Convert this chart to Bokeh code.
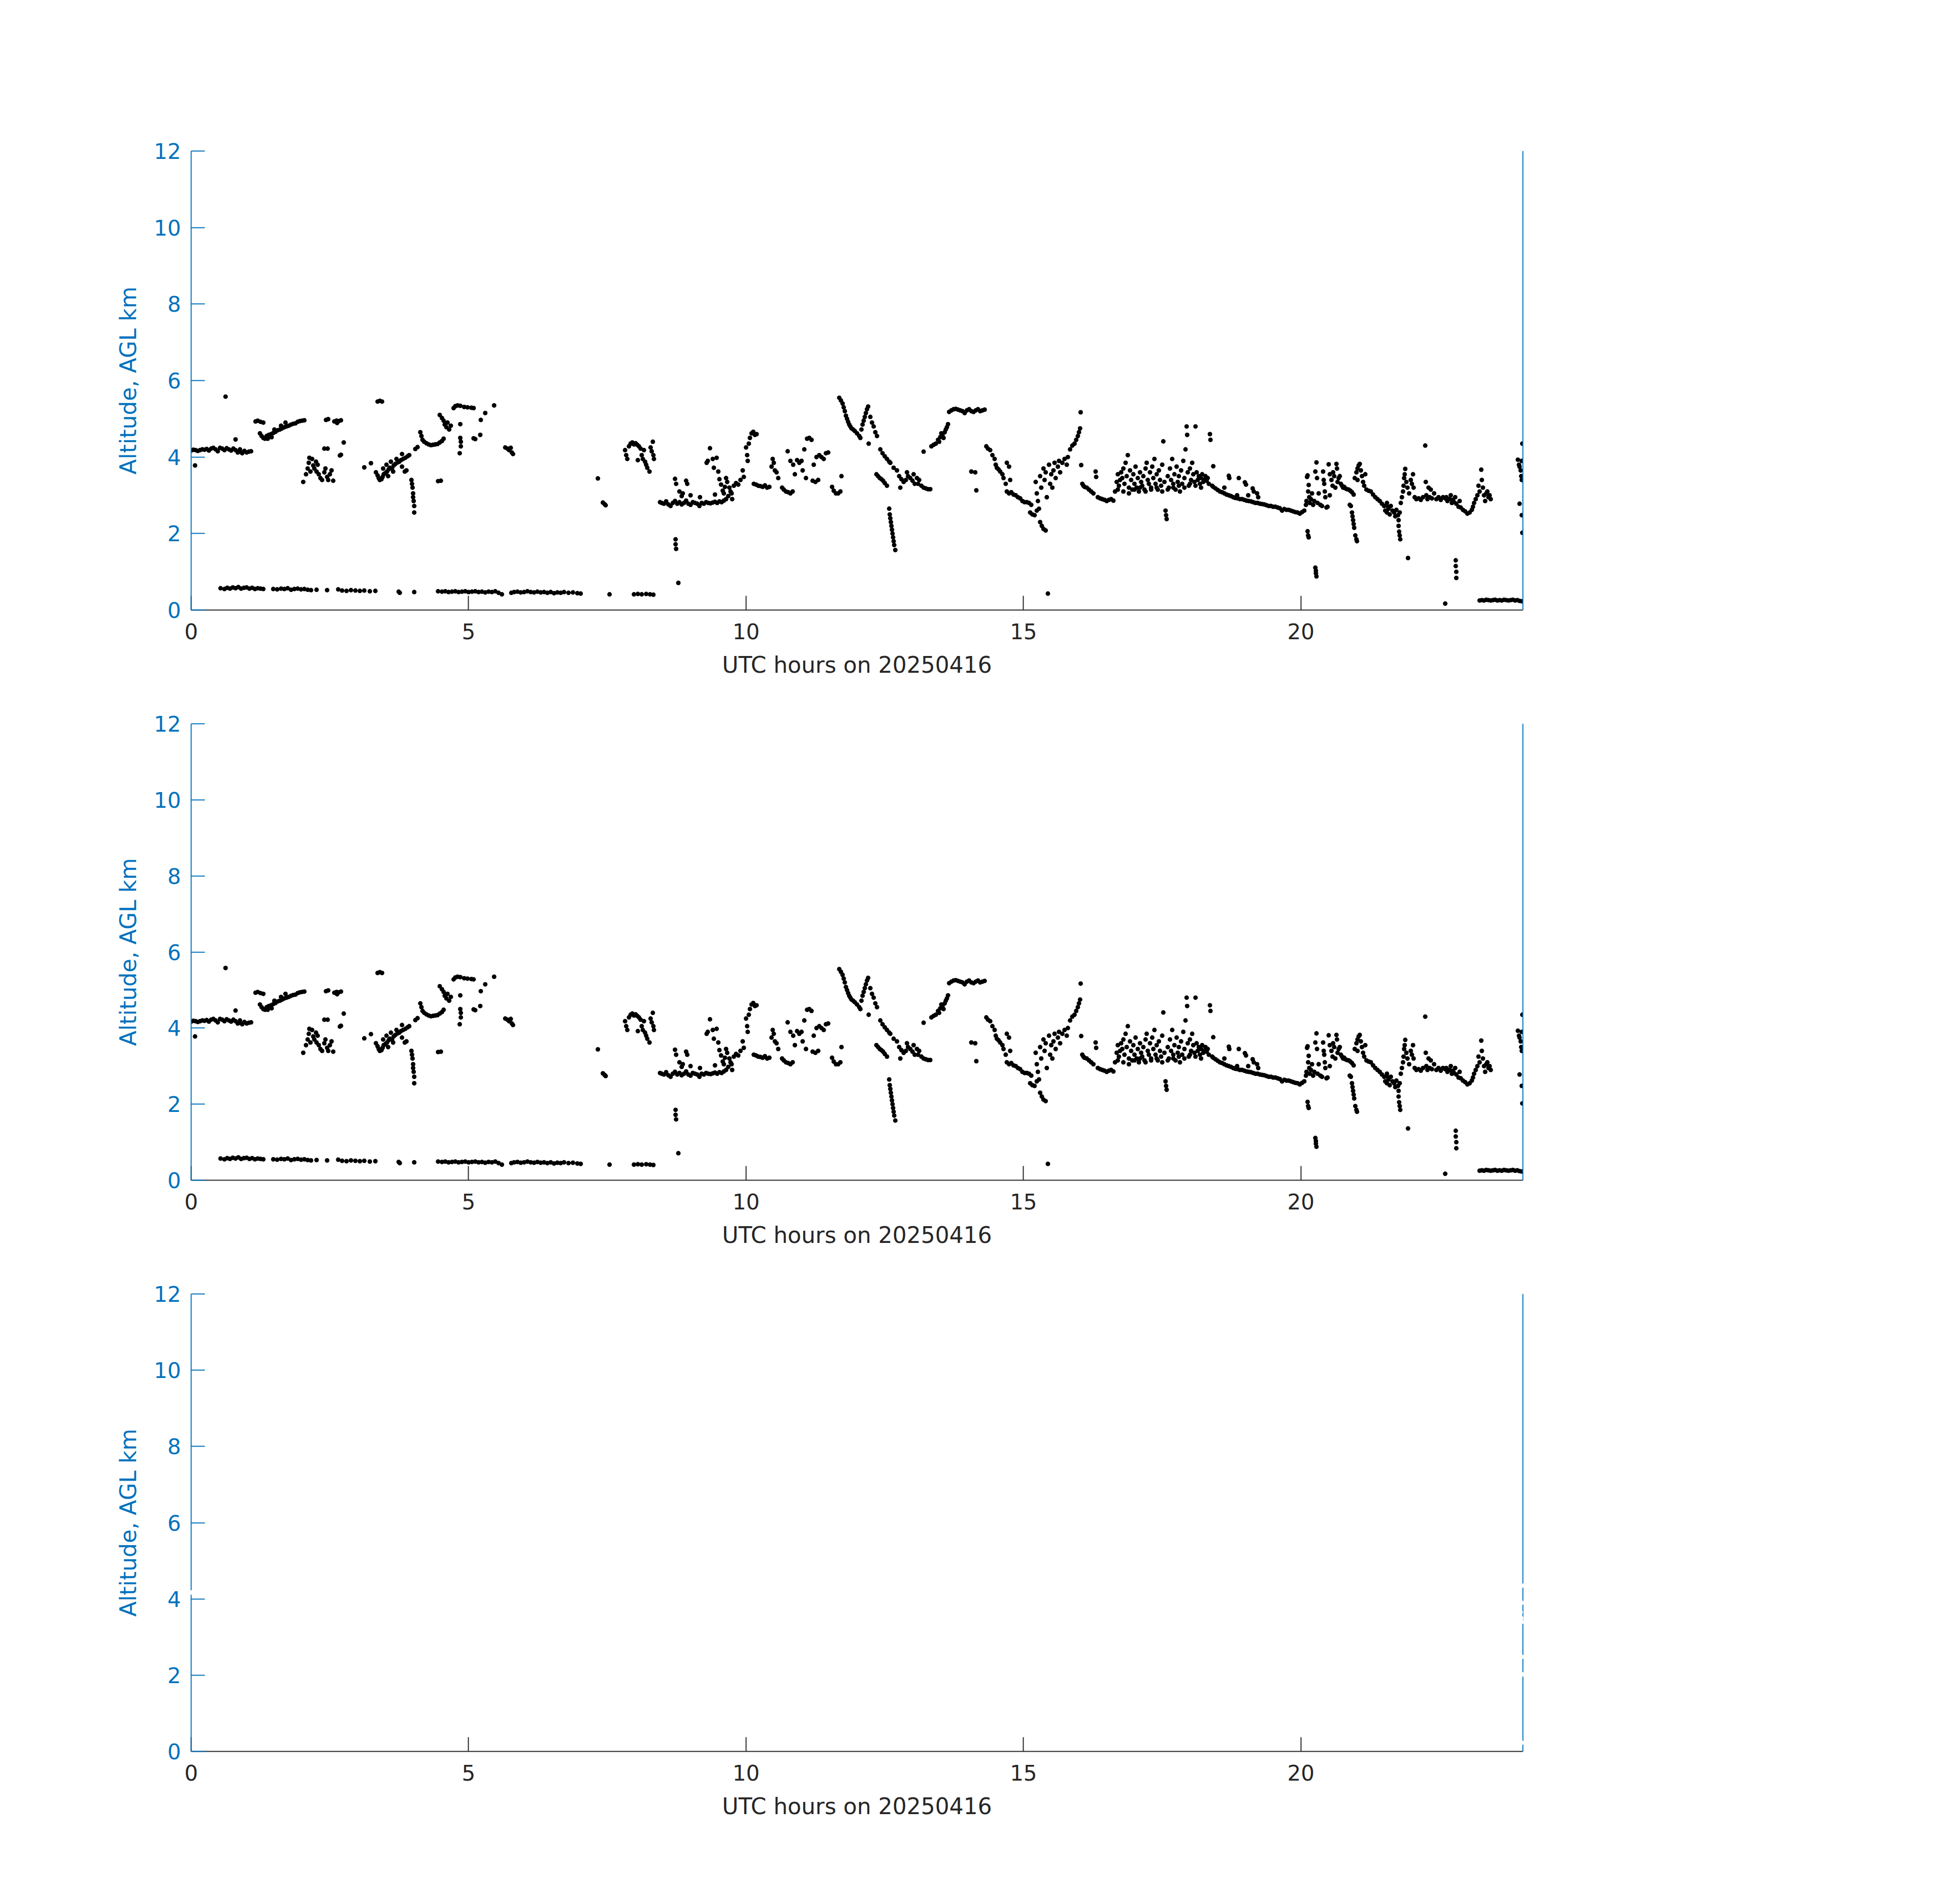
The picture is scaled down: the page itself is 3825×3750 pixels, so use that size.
from bokeh.plotting import figure
from bokeh.layouts import column
from bokeh.models import Range1d, FixedTicker, LinearAxis, ColumnDataSource
from bokeh.embed import file_html
from bokeh.resources import INLINE

# ---- data: (UTC hour, altitude km AGL) ----
upper_00_06 = [
    (0.00,4.17),(0.04,4.19),(0.08,4.18),(0.12,4.16),(0.16,4.18),(0.20,4.20),(0.24,4.19),(0.28,4.21),
    (0.32,4.17),(0.36,4.22),(0.40,4.24),(0.44,4.20),(0.48,4.15),(0.52,4.24),(0.56,4.22),(0.60,4.18),
    (0.64,4.23),(0.68,4.20),(0.72,4.17),(0.76,4.22),(0.80,4.18),(0.84,4.12),(0.88,4.14),(0.92,4.10),
    (0.96,4.16),(1.00,4.12),(1.04,4.14),(1.08,4.15),(0.07,3.78),(0.62,5.58),(0.80,4.46),(0.88,4.20),
    (1.16,4.93),(1.20,4.95),(1.25,4.92),(1.30,4.90),
    (1.24,4.62),(1.27,4.55),(1.30,4.50),(1.33,4.48),(1.36,4.55),(1.40,4.58),(1.44,4.60),(1.48,4.63),
    (1.52,4.66),(1.56,4.70),(1.60,4.72),(1.64,4.75),(1.68,4.78),(1.72,4.80),(1.76,4.82),(1.80,4.85),
    (1.84,4.87),(1.88,4.88),(1.92,4.92),(1.96,4.94),(2.00,4.95),(2.04,4.96),(1.50,4.72),(1.62,4.82),
    (1.70,4.90),(1.45,4.52),(1.38,4.48),
    (2.02,3.35),(2.07,3.55),(2.10,3.70),(2.12,3.85),(2.15,3.62),(2.18,3.95),(2.20,3.78),(2.22,3.70),
    (2.25,3.88),(2.28,3.80),(2.30,3.55),(2.33,3.45),(2.36,3.40),(2.40,3.60),(2.42,3.70),(2.45,3.48),
    (2.50,3.55),(2.53,3.65),(2.56,3.38),(2.13,3.98),(2.26,3.62),(2.47,3.40),
    (2.40,4.22),(2.46,4.22),(2.43,4.97),(2.47,4.99),(2.58,4.93),(2.62,4.95),(2.66,4.94),(2.70,4.96),
    (2.63,4.89),(2.75,4.38),(2.68,4.04),(2.70,4.06),
    (3.12,3.73),(3.24,3.84),(3.36,5.45),(3.40,5.47),(3.44,5.45),
    (3.33,3.60),(3.36,3.52),(3.38,3.45),(3.40,3.40),(3.43,3.42),(3.45,3.48),(3.47,3.55),(3.50,3.58),
    (3.53,3.62),(3.56,3.68),(3.58,3.72),(3.62,3.70),(3.65,3.78),(3.68,3.82),(3.72,3.86),(3.75,3.88),
    (3.78,3.92),(3.82,3.95),(3.86,3.98),(3.90,4.02),(3.93,4.05),(3.46,3.70),(3.52,3.80),(3.60,3.88),
    (3.64,3.62),(3.70,3.95),(3.80,4.08),(3.85,3.62),(3.88,3.65),(3.55,3.50),(3.80,3.75),
    (3.97,3.40),(3.98,3.30),(3.99,3.20),(4.00,3.05),(4.00,2.95),(4.01,2.85),(4.02,2.72),(4.02,2.55),
    (4.04,4.21),(4.08,4.26),(4.13,4.65),(4.15,4.55),(4.17,4.45),(4.20,4.40),(4.24,4.36),(4.28,4.33),
    (4.32,4.31),(4.36,4.32),(4.40,4.33),(4.44,4.34),(4.48,4.38),(4.52,4.42),(4.55,4.48),
    (4.45,3.37),(4.50,3.38),
    (4.48,5.10),(4.52,5.02),(4.55,4.95),(4.57,4.85),(4.60,4.78),(4.62,4.90),(4.65,4.72),(4.68,4.82),
    (4.73,5.28),(4.76,5.33),(4.80,5.35),(4.85,5.34),(4.92,5.31),(4.98,5.30),(5.05,5.29),(5.09,5.28),
    (4.85,4.86),(4.85,4.50),(4.86,4.40),(4.86,4.28),(4.84,4.10),
    (5.09,4.49),(5.12,4.47),(5.21,4.58),(5.22,4.97),(5.30,5.15),(5.46,5.35),
    (5.66,4.25),(5.70,4.22),(5.73,4.18),(5.76,4.24),(5.78,4.12),(5.80,4.08),
]

upper_07_10 = [
    (7.33,3.44),(7.42,2.81),(7.45,2.77),(7.47,2.74),
    (7.82,4.18),(7.84,4.05),(7.86,3.95),(7.89,4.28),(7.92,4.35),(7.95,4.38),(7.98,4.33),(8.01,4.36),
    (8.04,4.32),(8.07,4.28),(8.05,3.92),(8.10,4.22),(8.12,4.05),(8.14,3.95),(8.16,4.18),(8.18,3.88),
    (8.20,3.80),(8.22,3.72),(8.26,3.62),(8.28,4.25),(8.30,4.15),(8.32,4.40),(8.33,4.05),(8.34,3.95),
    (8.45,2.82),(8.48,2.80),(8.52,2.78),(8.56,2.84),(8.60,2.76),(8.64,2.72),(8.68,2.80),(8.72,2.85),
    (8.76,2.78),(8.80,2.82),(8.84,2.76),(8.88,2.80),(8.92,2.86),(8.96,2.78),(9.00,2.75),(9.04,2.82),
    (9.08,2.80),(9.12,2.78),(9.16,2.72),(9.20,2.80),(9.24,2.78),(9.28,2.82),(9.32,2.80),(9.36,2.79),
    (9.40,2.81),(9.44,2.83),(9.48,2.80),(9.52,2.84),(9.56,2.82),(9.60,2.86),(9.64,2.90),
    (8.72,3.43),(8.74,3.30),(8.80,3.10),(8.86,3.05),(8.92,3.38),(8.94,3.30),(8.84,2.98),(9.00,3.00),
    (8.73,1.85),(8.73,1.72),(8.74,1.60),(8.78,0.71),
    (9.17,2.95),(9.35,4.23),(9.29,3.85),(9.31,3.90),
    (9.40,3.95),(9.42,3.72),(9.44,3.02),(9.47,3.98),(9.50,3.62),(9.52,3.42),(9.55,3.28),(9.58,3.12),
    (9.60,3.05),(9.62,3.22),(9.64,3.45),(9.66,3.35),(9.68,2.98),(9.70,3.20),(9.72,3.10),(9.74,3.05),
    (9.78,3.25),(9.82,3.32),(9.86,3.28),(9.90,3.40),(9.94,3.65),(9.96,3.48),(10.00,4.25),(10.02,4.05),
    (10.03,3.90),(10.05,4.35),(10.07,4.50),(10.10,4.62),(10.13,4.66),(10.16,4.58),(10.19,4.60),(9.75,2.90),
]

upper_10_16 = [
    (10.14,3.30),(10.18,3.28),(10.22,3.25),(10.26,3.24),(10.30,3.22),(10.34,3.26),(10.38,3.20),(10.42,3.22),
    (10.46,3.75),(10.48,3.95),(10.50,3.85),(10.52,3.65),(10.55,3.60),(10.58,3.45),
    (10.65,3.20),(10.68,3.15),(10.72,3.10),(10.76,3.08),(10.80,3.05),(10.84,3.10),
    (10.75,4.15),(10.80,3.90),(10.85,3.80),(10.88,3.55),(10.92,3.92),(10.96,3.85),(11.00,3.90),(11.02,3.65),
    (11.05,4.20),(11.08,3.45),(11.10,4.48),(11.14,4.50),(11.18,4.45),(11.20,3.38),(11.22,3.80),(11.25,3.35),
    (11.27,4.00),(11.30,3.40),(11.32,4.05),(11.36,4.00),(11.40,3.95),(11.44,4.10),(11.48,4.12),
    (11.55,3.22),(11.58,3.12),(11.62,3.05),(11.66,3.05),(11.70,3.10),(11.72,3.50),
    (11.68,5.55),(11.71,5.48),(11.74,5.40),(11.76,5.30),(11.78,5.20),(11.80,5.08),(11.82,5.00),(11.84,4.92),
    (11.86,4.85),(11.88,4.80),(11.90,4.75),(11.93,4.72),(11.96,4.68),(12.00,4.62),(12.04,4.55),(12.06,4.50),
    (12.08,4.72),(12.10,4.85),(12.12,4.95),(12.14,5.05),(12.16,5.15),(12.18,5.25),(12.20,5.32),(12.21,4.35),
    (12.24,5.05),(12.27,4.90),(12.30,4.80),(12.33,4.65),(12.36,4.55),
    (12.42,4.20),(12.46,4.10),(12.50,4.02),(12.54,3.95),(12.58,3.88),(12.60,3.85),(12.66,3.72),
    (12.35,3.55),(12.38,3.50),(12.41,3.45),(12.44,3.42),(12.47,3.38),(12.50,3.32),(12.54,3.25),
    (12.58,2.65),(12.59,2.50),(12.60,2.40),(12.61,2.30),(12.62,2.20),(12.63,2.10),(12.64,2.00),(12.65,1.90),
    (12.66,1.80),(12.67,1.70),(12.69,1.57),
    (12.72,3.65),(12.76,3.50),(12.80,3.42),(12.84,3.35),(12.88,3.40),(12.92,3.50),(12.96,3.45),(13.00,3.38),
    (13.04,3.30),(13.08,3.45),(13.12,3.40),(13.16,3.25),(13.20,3.20),(13.24,3.18),(13.28,3.16),(13.32,3.16),
    (12.78,3.20),(12.90,3.60),(13.02,3.55),(13.10,3.30),(13.20,4.14),
    (13.34,4.28),(13.38,4.32),(13.42,4.35),(13.46,4.45),(13.50,4.52),(13.54,4.58),(13.58,4.65),(13.60,4.72),
    (13.62,4.78),(13.64,4.86),(13.48,4.40),(13.56,4.50),(13.52,4.62),
    (13.66,5.18),(13.70,5.22),(13.74,5.25),(13.78,5.26),(13.82,5.24),(13.86,5.22),(13.90,5.20),(13.94,5.15),
    (13.98,5.22),(14.02,5.25),(14.06,5.20),(14.10,5.18),(14.14,5.22),(14.18,5.25),(14.22,5.20),(14.26,5.22),
    (14.30,5.24),(14.06,3.62),(14.13,3.60),(14.15,3.13),
    (14.33,4.28),(14.36,4.22),(14.40,4.18),(14.44,4.05),(14.48,3.95),(14.50,3.80),(14.52,3.72),(14.55,3.68),
    (14.58,3.62),(14.62,3.55),(14.64,3.45),(14.68,3.30),(14.70,3.85),(14.74,3.75),(14.76,3.40),
    (14.70,3.10),(14.74,3.05),(14.78,3.08),(14.82,3.02),(14.86,3.00),(14.90,2.95),(14.94,2.92),(14.98,2.85),
    (15.02,2.82),(15.06,2.82),(15.10,2.80),(15.14,2.75),
    (15.12,2.55),(15.16,2.50),(15.20,2.48),(15.24,2.60),(15.28,2.65),(15.30,2.30),(15.33,2.20),(15.36,2.12),
    (15.40,2.08),
    (15.22,3.35),(15.24,3.05),(15.26,2.85),(15.30,3.50),(15.32,3.20),(15.36,3.70),(15.38,3.40),(15.40,3.60),
    (15.42,2.95),(15.46,3.80),(15.48,3.30),(15.50,3.55),(15.52,3.20),(15.54,3.65),(15.56,3.85),(15.58,3.45),
    (15.62,3.75),(15.64,3.90),(15.66,3.60),(15.70,3.85),(15.74,3.95),(15.78,3.80),(15.80,4.00),
    (15.84,4.20),(15.88,4.30),(15.92,4.35),(15.95,4.45),(15.98,4.55),(16.00,4.65),(16.02,4.75),(16.03,5.17),
    (16.04,3.79),
]

upper_16_20 = [
    (16.06,3.30),(16.08,3.25),(16.10,3.22),(16.14,3.20),(16.18,3.15),(16.22,3.10),(16.26,3.05),(16.30,3.62),
    (16.31,3.48),(16.34,2.95),(16.38,2.92),(16.42,2.90),(16.46,2.88),(16.50,2.85),(16.54,2.88),(16.58,2.90),
    (16.62,2.86),
    (16.65,3.10),(16.68,3.35),(16.70,3.55),(16.72,3.25),(16.74,3.40),(16.76,3.60),(16.78,3.45),(16.80,3.70),
    (16.82,3.30),(16.84,3.85),(16.86,3.50),(16.88,4.05),(16.90,3.20),(16.92,3.65),(16.94,3.40),(16.96,3.15),
    (16.98,3.55),(17.00,3.30),(17.02,3.75),(17.04,3.20),(17.06,3.45),(17.08,3.10),(17.10,3.60),(17.12,3.35),
    (17.14,3.25),(17.16,3.50),(17.18,3.15),(17.20,3.70),(17.22,3.85),(17.24,3.40),(17.26,3.30),(17.28,3.60),
    (17.30,3.20),(17.32,3.75),(17.34,3.45),(17.36,3.95),(17.38,3.30),(17.40,3.55),(17.42,3.15),(17.44,3.65),
    (17.46,3.40),(17.48,3.25),(17.50,3.80),(17.52,4.41),(17.54,3.35),(17.56,2.60),(17.57,2.48),(17.58,2.38),
    (17.60,3.50),(17.62,3.20),(17.64,3.70),(17.66,3.40),(17.68,3.95),(17.70,3.30),(17.72,3.55),(17.74,3.15),
    (17.76,3.75),(17.78,3.35),(17.80,3.50),(17.82,3.10),(17.84,3.65),(17.86,3.30),(17.88,3.90),(17.90,3.45),
    (17.92,4.20),(17.94,4.80),(17.95,4.58),(17.96,3.60),(17.98,3.25),(18.00,3.70),(18.02,3.40),(18.04,3.85),
    (18.06,3.55),(18.08,3.35),(18.10,4.80),(18.12,3.60),(18.14,3.40),(18.16,3.50),(18.18,3.30),(18.20,3.45),
    (18.22,3.55),(18.24,3.35),(18.26,3.40),(18.28,3.50),(18.30,3.38),(18.32,3.45),(18.34,3.30),(18.36,4.60),
    (18.37,4.45),(18.42,3.76),(18.40,3.25),
    (16.70,3.15),(16.80,3.10),(16.90,3.05),(17.00,3.15),(17.10,3.20),(17.20,3.10),(17.30,3.15),(17.40,3.20),
    (17.50,3.10),(17.60,3.15),(17.70,3.20),(17.80,3.25),(17.90,3.20),(18.00,3.30),(18.10,3.25),(18.20,3.20),
    (18.42,3.22),(18.46,3.18),(18.50,3.14),(18.54,3.10),(18.58,3.08),(18.62,3.05),(18.66,3.02),(18.70,3.00),
    (18.74,2.98),(18.78,2.95),(18.82,2.93),(18.86,2.92),(18.90,2.90),(18.94,2.90),(18.98,2.88),(19.02,2.86),
    (19.06,2.85),(19.10,2.84),(19.14,2.82),(19.18,2.80),(19.22,2.80),(19.26,2.78),(19.30,2.77),(19.34,2.76),
    (19.38,2.74),(19.42,2.72),(19.46,2.72),(19.50,2.70),(19.54,2.70),(19.58,2.68),(19.62,2.66),(19.66,2.60),
    (19.70,2.64),(19.74,2.62),(19.78,2.62),(19.82,2.60),(19.86,2.58),(19.90,2.56),(19.94,2.55),(19.98,2.52),
    (20.02,2.56),(20.06,2.60),
    (18.70,3.51),(18.71,3.45),(18.88,3.45),(18.99,3.34),(19.01,3.28),(19.13,3.18),(19.15,3.10),(19.21,3.05),
    (18.85,3.00),(19.05,3.00),(18.62,3.20),(19.23,2.95),
]

upper_20_24 = [
    (20.09,2.75),(20.10,2.85),(20.11,3.48),(20.12,3.52),(20.13,3.10),(20.14,3.27),(20.15,2.95),(20.16,2.80),
    (20.18,2.90),(20.20,3.05),(20.22,2.75),(20.24,2.85),(20.26,3.62),(20.28,3.86),(20.29,3.45),(20.30,2.80),
    (20.32,3.05),(20.35,2.75),(20.38,2.72),(20.40,3.62),(20.41,3.40),(20.42,3.30),(20.43,3.10),(20.44,2.95),
    (20.46,2.68),(20.48,2.70),(20.50,3.81),(20.52,3.00),
    (20.12,2.06),(20.13,1.95),(20.14,1.90),(20.26,1.11),(20.27,1.03),(20.27,0.96),(20.28,0.88),
    (20.52,3.55),(20.55,3.40),(20.57,3.25),(20.58,3.60),(20.60,3.50),(20.62,3.20),(20.64,3.82),(20.65,3.70),
    (20.66,3.35),(20.68,3.45),(20.70,3.50),(20.72,3.30),(20.74,3.25),
    (20.76,3.20),(20.78,3.22),(20.80,3.18),(20.83,3.16),(20.86,3.15),(20.89,3.12),(20.92,3.08),(20.95,3.02),
    (20.88,2.75),(20.90,2.72),(20.92,2.55),(20.93,2.45),(20.94,2.35),(20.95,2.25),(20.96,2.15),(20.98,1.95),
    (21.00,1.85),(21.01,1.80),
    (20.97,3.45),(21.00,3.60),(21.02,3.70),(21.04,3.78),(21.06,3.82),(21.08,3.65),(21.10,3.50),(21.12,3.35),
    (21.14,3.25),(21.16,3.55),(21.02,3.40),
    (21.18,3.15),(21.22,3.12),(21.26,3.10),(21.30,3.02),(21.34,2.95),(21.38,2.90),
    (21.42,2.85),(21.46,2.78),(21.50,2.72),(21.52,2.60),(21.55,2.55),(21.58,2.65),(21.60,2.50),(21.62,2.72),
    (21.65,2.60),(21.68,2.55),(21.70,2.45),(21.72,2.62),(21.75,2.48),(21.78,2.55),(21.55,2.80),(21.57,2.70),
    (21.76,2.35),(21.76,2.20),(21.77,2.05),(21.78,1.95),(21.79,1.85),
    (21.80,2.80),(21.82,2.95),(21.84,3.10),(21.85,3.25),(21.86,3.45),(21.87,3.55),(21.88,3.69),(21.90,3.35),
    (21.92,3.20),(21.95,3.05),(21.98,3.40),(22.00,3.30),(22.02,3.55),(22.03,3.20),(21.93,1.36),
    (22.05,2.95),(22.08,2.90),(22.12,2.92),(22.16,2.88),(22.20,2.95),(22.24,4.30),(22.25,3.35),(22.26,3.00),
    (22.28,2.90),(22.30,3.20),(22.32,2.95),(22.34,3.15),(22.36,2.92),(22.40,3.05),(22.44,2.90),(22.48,2.95),
    (22.52,2.88),(22.56,2.95),(22.60,2.92),
    (22.64,2.85),(22.68,2.90),(22.72,2.80),(22.76,2.82),(22.80,2.78),(22.84,2.70),(22.88,2.68),(22.92,2.62),
    (22.96,2.58),(23.00,2.52),(23.04,2.55),(23.08,2.62),(22.70,3.00),(22.78,2.95),(22.86,2.85),(22.62,2.95),
    (22.74,2.88),(22.79,1.30),(22.79,1.15),(22.80,1.00),(22.80,0.84),
    (23.10,2.70),(23.12,2.80),(23.15,2.90),(23.18,3.00),(23.20,3.25),(23.22,3.10),(23.25,3.67),(23.26,3.40),
    (23.28,3.20),(23.30,3.00),(23.32,2.85),(23.34,3.05),(23.36,3.10),(23.38,2.95),(23.40,3.00),(23.42,2.90),
    (23.99,4.35),(23.91,3.93),(23.98,3.90),(23.93,3.80),(23.94,3.75),(23.96,3.65),(23.97,3.50),(23.98,3.40),
    (23.94,2.78),(23.98,2.48),(23.99,2.02),
]

lower_layer = [
    (0.53,0.57),(0.60,0.55),(0.65,0.58),(0.70,0.56),(0.75,0.59),(0.80,0.57),(0.85,0.60),(0.90,0.56),
    (0.95,0.58),(1.00,0.59),(1.05,0.56),(1.10,0.58),(1.15,0.55),(1.20,0.57),(1.25,0.56),(1.30,0.55),
    (1.48,0.55),(1.55,0.54),(1.62,0.56),(1.68,0.55),(1.74,0.57),(1.80,0.53),(1.86,0.55),(1.92,0.56),
    (1.98,0.54),(2.04,0.55),(2.10,0.53),(2.16,0.52),(2.26,0.53),
    (2.45,0.52),(2.65,0.54),(2.72,0.51),(2.80,0.50),(2.88,0.52),(2.96,0.51),(3.04,0.50),(3.12,0.51),
    (3.22,0.49),(3.32,0.50),(3.74,0.48),(3.76,0.45),(4.02,0.47),
    (4.45,0.49),(4.52,0.48),(4.58,0.49),(4.64,0.47),(4.70,0.48),(4.76,0.49),(4.82,0.47),(4.88,0.48),
    (4.94,0.49),(5.00,0.47),(5.06,0.48),(5.12,0.49),(5.18,0.47),(5.24,0.48),(5.30,0.46),(5.36,0.48),
    (5.42,0.47),(5.48,0.49),(5.54,0.45),(5.60,0.41),
    (5.77,0.45),(5.82,0.47),(5.88,0.48),(5.94,0.46),(6.00,0.47),(6.06,0.49),(6.12,0.47),(6.18,0.46),
    (6.24,0.48),(6.30,0.46),(6.36,0.47),(6.42,0.45),(6.48,0.47),(6.54,0.44),(6.60,0.46),(6.66,0.45),
    (6.72,0.47),(6.80,0.45),(6.88,0.46),(6.96,0.44),(7.02,0.43),
    (7.54,0.41),(7.98,0.41),(8.05,0.42),(8.12,0.41),(8.20,0.42),(8.27,0.41),(8.33,0.40),
    (15.44,0.43),(22.60,0.17),
    (23.22,0.25),(23.26,0.26),(23.30,0.25),(23.34,0.27),(23.38,0.26),(23.42,0.25),(23.46,0.26),(23.50,0.27),
    (23.54,0.25),(23.58,0.26),(23.62,0.25),(23.66,0.27),(23.70,0.26),(23.74,0.25),(23.78,0.26),(23.82,0.27),
    (23.86,0.25),(23.90,0.26),(23.94,0.24),(23.98,0.23),
]

x_ticks = [0, 5, 10, 15, 20]
y_ticks = [0, 2, 4, 6, 8, 10, 12]
x_label = "UTC hours on 20250416"
y_label = "Altitude, AGL km"

all_pts = upper_00_06 + upper_07_10 + upper_10_16 + upper_16_20 + upper_20_24 + lower_layer
hours = [p[0] for p in all_pts]
alt_km = [p[1] for p in all_pts]

BLUE = "#0072BD"
DARK = "#262626"
FONT = "DejaVu Sans"
LEFT = 376
BOTTOM = 160


def make_panel(top, frame_h, dot_color, on_top=False):
    right = 600
    p = figure(width=LEFT + 2623 + right, height=top + frame_h + BOTTOM,
               x_range=Range1d(0, 24), y_range=Range1d(0, 12),
               output_backend="svg", toolbar_location=None,
               min_border_left=LEFT, min_border_right=right,
               min_border_top=top, min_border_bottom=BOTTOM)
    p.outline_line_color = None
    p.xgrid.visible = False
    p.ygrid.visible = False
    p.background_fill_color = "white"
    p.border_fill_color = "white"

    src = ColumnDataSource(dict(x=hours, y=alt_km))
    r = p.scatter("x", "y", source=src, size=9, fill_color=dot_color,
                  line_color=dot_color, line_width=0)
    if on_top:
        r.level = "overlay"

    xa = p.xaxis[0]
    xa.ticker = FixedTicker(ticks=x_ticks)
    xa.axis_line_color = DARK
    xa.axis_line_width = 2
    xa.major_tick_line_color = DARK
    xa.major_tick_line_width = 2
    xa.major_tick_in = 28
    xa.major_tick_out = 0
    xa.minor_tick_line_color = None
    xa.major_label_text_color = DARK
    xa.major_label_text_font = FONT
    xa.major_label_text_font_size = "42px"
    xa.major_label_standoff = 26
    xa.axis_label = x_label
    xa.axis_label_text_color = DARK
    xa.axis_label_text_font = FONT
    xa.axis_label_text_font_size = "44px"
    xa.axis_label_text_font_style = "normal"
    xa.axis_label_standoff = 22

    ya = p.yaxis[0]
    ya.ticker = FixedTicker(ticks=y_ticks)
    ya.axis_line_color = BLUE
    ya.axis_line_width = 2
    ya.major_tick_line_color = BLUE
    ya.major_tick_line_width = 2
    ya.major_tick_in = 27
    ya.major_tick_out = 0
    ya.minor_tick_line_color = None
    ya.major_label_text_color = BLUE
    ya.major_label_text_font = FONT
    ya.major_label_text_font_size = "42px"
    ya.major_label_standoff = 20
    ya.axis_label = y_label
    ya.axis_label_text_color = BLUE
    ya.axis_label_text_font = FONT
    ya.axis_label_text_font_size = "44px"
    ya.axis_label_text_font_style = "normal"
    ya.axis_label_standoff = 22

    ra = LinearAxis(ticker=FixedTicker(ticks=[]))
    ra.axis_line_color = BLUE
    ra.axis_line_width = 2
    ra.major_tick_line_color = None
    ra.minor_tick_line_color = None
    ra.major_label_text_font_size = "0px"
    p.add_layout(ra, "right")
    return p


top1, fh1 = 297, 904
top2, fh2 = 1425 - (top1 + fh1 + BOTTOM), 899
top3, fh3 = 2548 - (top1 + fh1 + BOTTOM) - (top2 + fh2 + BOTTOM), 901

p1 = make_panel(top1, fh1, "black")
p2 = make_panel(top2, fh2, "black")
p3 = make_panel(top3, fh3, "white", on_top=True)

layout = column(p1, p2, p3)
open("out.html", "w").write(file_html(layout, INLINE))
